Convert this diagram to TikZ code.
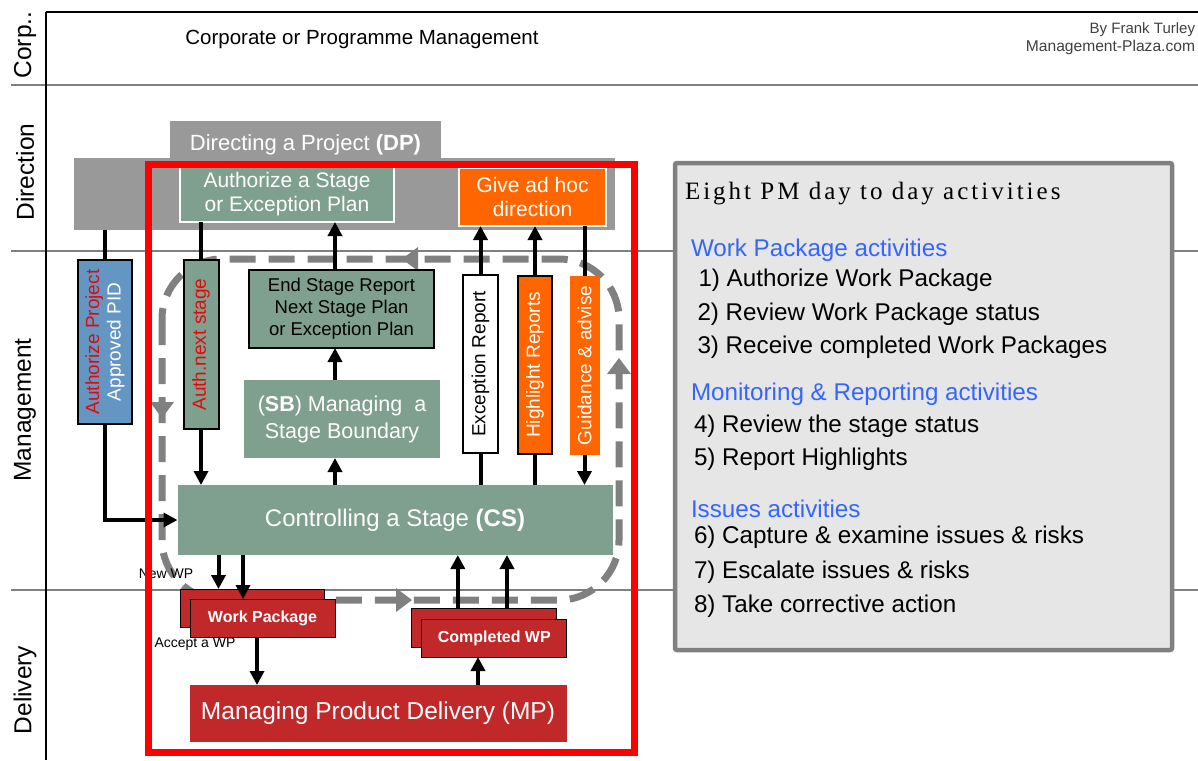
\documentclass[tikz,border=0pt]{standalone}
\usepackage{fontspec}
\setmainfont{Liberation Sans}
\newfontfamily\titlefont[LetterSpace=12]{Liberation Serif}
\usetikzlibrary{arrows.meta,calc}
\definecolor{sage}{RGB}{127,160,142}
\definecolor{dpgray}{RGB}{153,153,153}
\definecolor{orng}{RGB}{255,102,0}
\definecolor{wpred}{RGB}{192,40,42}
\definecolor{apblue}{RGB}{100,150,195}
\definecolor{txtred}{RGB}{225,10,10}
\definecolor{hblue}{RGB}{51,102,255}
\definecolor{boxfill}{RGB}{230,230,230}
\definecolor{boxgray}{RGB}{128,128,128}
\definecolor{loopgray}{RGB}{128,128,128}
\definecolor{credit}{RGB}{64,64,64}
\newcommand{\fsz}[2]{\fontsize{#1}{#2}\selectfont}
\begin{document}
\begin{tikzpicture}[x=1pt,y=-1pt,
  every node/.style={inner sep=0pt,outer sep=0pt},
  lane/.style={draw=boxgray,line width=1.5pt},
  lanelabel/.style={rotate=90,font=\fsz{24.5}{27}},
  sagebox/.style={fill=sage,text=white,align=center},
  vbox/.style={rotate=90,align=center,font=\fsz{19}{21.5}},
  wpbox/.style={fill=wpred,draw=black,line width=1pt,text=white,font=\fsz{16}{18}\bfseries},
  ln/.style={line width=4pt},
  arr/.style={line width=4pt,-{Triangle[length=14pt,width=14pt]}},
  dashloop/.style={draw=loopgray,line width=7pt,dash pattern=on 26pt off 13pt,rounded corners=60pt},
  infotext/.style={anchor=base west,font=\fsz{24.2}{27}},
  infohead/.style={anchor=base west,font=\fsz{24.2}{27},text=hblue}]
\useasboundingbox (0,0) rectangle (1198,760);
\fill[white] (0,0) rectangle (1198,760);
% frame and lanes
\draw[lane] (11,85) -- (1198,85);
\draw[lane] (11,251) -- (1198,251);
\draw[lane] (11,590) -- (1198,590);
\draw[black,line width=2.5pt] (46,12) -- (1198,12);
\draw[black,line width=2pt] (46,12) -- (46,760);
\node[lanelabel] (lcorp) at (25,45) {Corp..};
\node[lanelabel] (ldir) at (25,172) {Direction};
\node[lanelabel] (lman) at (25,410) {Management};
\node[lanelabel] (ldel) at (25,690) {Delivery};
\node[anchor=base,font=\fsz{20.5}{24}] (corp) at (362,45) {Corporate or Programme Management};
\node[anchor=base east,font=\fsz{15}{18},text=credit] (by1) at (1195,34) {By Frank Turley};
\node[anchor=base east,font=\fsz{15.6}{18},text=credit] (by2) at (1195,52) {Management-Plaza.com};
% DP
\node[fill=dpgray,minimum width=541,minimum height=72] (dp) at (344,194) {};
\node[fill=dpgray,minimum width=271,minimum height=37] (tab) at (305.5,139.5) {};
\node[anchor=base,text=white,font=\fsz{22}{24}] (tabtext) at (305.5,150) {Directing a Project \textbf{(DP)}};
\node[sagebox,draw=white,line width=2pt,minimum width=214,minimum height=55,font=\fsz{21}{24}] (asp) at (287,194.5) {Authorize a Stage\\or Exception Plan};
\node[fill=orng,draw=white,line width=2pt,text=white,align=center,minimum width=147,minimum height=58,font=\fsz{21}{24}] (adhoc) at (532.5,197) {Give ad hoc\\direction};
% dashed loop
\draw[dashloop] (162,259) rectangle (619,600);
\fill[loopgray] (402,259) -- (418,247) -- (418,271) -- cycle;
\fill[loopgray] (162,418) -- (150,402) -- (174,402) -- cycle;
\fill[loopgray] (412,600) -- (396,588) -- (396,612) -- cycle;
\fill[loopgray] (619,358) -- (607,374) -- (631,374) -- cycle;
% management boxes
\node[fill=apblue,draw=black,line width=2pt,minimum width=54,minimum height=164] (ap) at (105,342) {};
\node[vbox] (aptext) at (ap.center) {\textcolor{txtred}{Authorize Project}\\\textcolor{white}{Approved PID}};
\node[fill=sage,draw=black,line width=2pt,minimum width=35,minimum height=169] (ans) at (201,344.5) {};
\node[vbox,text=txtred] (anstext) at (ans.center) {Auth.next stage};
\node[fill=sage,draw=black,line width=2pt,minimum width=185,minimum height=78,align=center,font=\fsz{18.5}{22}] (esr) at (341.5,309) {End Stage Report\\Next Stage Plan\\or Exception Plan};
\node[sagebox,minimum width=196,minimum height=78,font=\fsz{21.5}{27}] (sb) at (342,419) {(\textbf{SB}) Managing\ \ a\\Stage Boundary};
\node[fill=white,draw=black,line width=2pt,minimum width=35,minimum height=178] (er) at (480.5,364) {};
\node[vbox] (ertext) at (er.center) {Exception Report};
\node[fill=orng,draw=black,line width=2pt,minimum width=34,minimum height=178] (hr) at (535,365) {};
\node[vbox,text=white] (hrtext) at (hr.center) {Highlight Reports};
\node[fill=orng,minimum width=30,minimum height=179] (ga) at (584.5,365.5) {};
\node[vbox,text=white] (gatext) at (ga.center) {Guidance \& advise};
\node[sagebox,minimum width=435,minimum height=70,font=\fsz{24}{27}] (cs) at (395,520) {Controlling a Stage \textbf{(CS)}};
% delivery
\node[wpbox,minimum width=144,minimum height=38] (wpb) at (252.6,608) {};
\node[wpbox,minimum width=145,minimum height=38] (wp) at (262.5,618) {Work Package};
\node[wpbox,minimum width=145,minimum height=39] (cwpb) at (484.3,627.5) {};
\node[wpbox,minimum width=145,minimum height=38] (cwp) at (494.3,638) {Completed WP};
\node[fill=wpred,text=white,minimum width=377,minimum height=57,font=\fsz{24.5}{28}] (mp) at (378,713.5) {Managing Product Delivery (MP)};
\node[font=\fsz{14}{16}] (newwp) at (166,574) {New WP};
\node[font=\fsz{14}{16}] (accwp) at (195,644) {Accept a WP};
% column coordinates
\coordinate (xa) at (218.5,0);
\coordinate (xb) at (243,0);
\coordinate (xc) at (257,0);
\coordinate (xd) at (457.8,0);
\coordinate (xe) at (507,0);
\coordinate (xf) at (478,0);
\coordinate (xg) at (335,0);
% connectors
\draw[ln] (ap.north) -- (ap.north |- dp.south);
\draw[arr] (ap.south) |- (cs.west);
\draw[ln] (ans.north) -- (ans.north |- asp.south);
\draw[arr] (ans.south) -- (ans.south |- cs.north);
\draw[arr] (cs.north -| xg) -- (sb.south -| xg);
\draw[arr] (sb.north -| xg) -- (esr.south -| xg);
\draw[arr] (esr.north -| xg) -- (asp.south -| xg);
\draw[ln] (cs.north -| er) -- (er.south);
\draw[arr] (er.north) -- (er.north |- adhoc.south);
\draw[ln] (cs.north -| hr) -- (hr.south);
\draw[arr] (hr.north) -- (hr.north |- adhoc.south);
\draw[ln] (adhoc.south -| ga) -- (ga.north);
\draw[arr] (ga.south) -- (ga.south |- cs.north);
\draw[arr] (cs.south -| xa) -- (wpb.north -| xa);
\draw[arr] (cs.south -| xb) -- (wp.north -| xb);
\draw[arr] (wp.south -| xc) -- (mp.north -| xc);
\draw[arr] (cwpb.north -| xd) -- (cs.south -| xd);
\draw[arr] (cwpb.north -| xe) -- (cs.south -| xe);
\draw[arr] (mp.north -| xf) -- (cwp.south -| xf);
% red scope box
\draw[red,line width=7pt] (148.5,164) rectangle (634.5,752);
% info box
\node[draw=boxgray,line width=4.5pt,fill=boxfill,rounded corners=2pt,minimum width=497,minimum height=487] (info) at (923.5,406.5) {};
\node[anchor=base west,font=\titlefont\fsz{25}{28}] (title) at (685,199) {Eight PM day to day activities};
\node[infohead] (h1) at (691,256) {Work Package activities};
\node[infotext] (i1) at (698.5,286) {1) Authorize Work Package};
\node[infotext] (i2) at (697.5,320) {2) Review Work Package status};
\node[infotext] (i3) at (697.5,353) {3) Receive completed Work Packages};
\node[infohead] (h2) at (691,400) {Monitoring \& Reporting activities};
\node[infotext] (i4) at (694,432) {4) Review the stage status};
\node[infotext] (i5) at (694,465) {5) Report Highlights};
\node[infohead] (h3) at (691,517) {Issues activities};
\node[infotext] (i6) at (694,543) {6) Capture \& examine issues \& risks};
\node[infotext] (i7) at (694,578) {7) Escalate issues \& risks};
\node[infotext] (i8) at (694,612) {8) Take corrective action};
\end{tikzpicture}
\end{document}
